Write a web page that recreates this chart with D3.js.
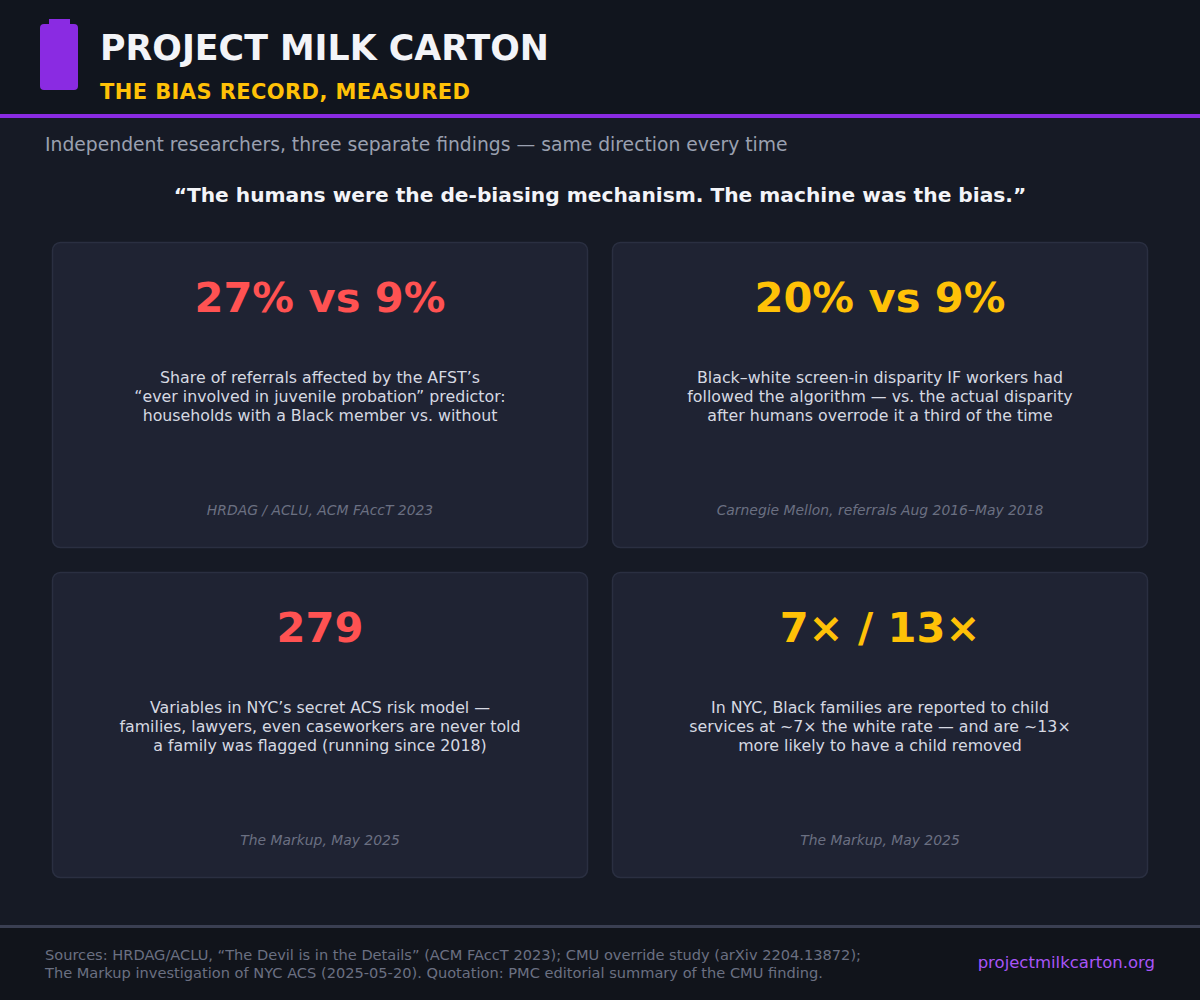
<!DOCTYPE html>
<html>
<head>
<meta charset="utf-8">
<script src="https://cdn.jsdelivr.net/npm/d3@7"></script>
<style>
  html, body { margin: 0; padding: 0; background: #161a25; }
  svg { display: block; font-family: "DejaVu Sans", sans-serif; }
</style>
</head>
<body>
<svg id="chart" width="1200" height="1000"></svg>
<script>
// ---- data ----
const cardStats = ["27% vs 9%", "20% vs 9%", "279", "7\u00d7 / 13\u00d7"];
const cardTones = ["red", "gold", "red", "gold"];
const cardDescriptions = [
  ["Share of referrals affected by the AFST\u2019s", "\u201cever involved in juvenile probation\u201d predictor:", "households with a Black member vs. without"],
  ["Black\u2013white screen-in disparity IF workers had", "followed the algorithm \u2014 vs. the actual disparity", "after humans overrode it a third of the time"],
  ["Variables in NYC\u2019s secret ACS risk model \u2014", "families, lawyers, even caseworkers are never told", "a family was flagged (running since 2018)"],
  ["In NYC, Black families are reported to child", "services at ~7\u00d7 the white rate \u2014 and are ~13\u00d7", "more likely to have a child removed"]
];
const cardSources = [
  "HRDAG / ACLU, ACM FAccT 2023",
  "Carnegie Mellon, referrals Aug 2016\u2013May 2018",
  "The Markup, May 2025",
  "The Markup, May 2025"
];
const titleText = "PROJECT MILK CARTON";
const subtitleText = "THE BIAS RECORD, MEASURED";
const introText = "Independent researchers, three separate findings \u2014 same direction every time";
const quoteText = "\u201cThe humans were the de-biasing mechanism. The machine was the bias.\u201d";
const footerLines = [
  "Sources: HRDAG/ACLU, \u201cThe Devil is in the Details\u201d (ACM FAccT 2023); CMU override study (arXiv 2204.13872);",
  "The Markup investigation of NYC ACS (2025-05-20). Quotation: PMC editorial summary of the CMU finding."
];
const siteText = "projectmilkcarton.org";

// ---- drawing ----
const W = 1200, H = 1000;
const svg = d3.select("#chart");
const toneColor = d3.scaleOrdinal().domain(["red", "gold"]).range(["#ff5252", "#ffc107"]);

// backgrounds
svg.append("rect").attr("x", 0).attr("y", 0).attr("width", W).attr("height", H).attr("fill", "#161a25");
svg.append("rect").attr("x", 0).attr("y", 0).attr("width", W).attr("height", 114).attr("fill", "#11151e");
svg.append("rect").attr("x", 0).attr("y", 114).attr("width", W).attr("height", 4).attr("fill", "#8a2be2");
svg.append("rect").attr("x", 0).attr("y", 925).attr("width", W).attr("height", H - 925).attr("fill", "#11141b");
svg.append("rect").attr("x", 0).attr("y", 925).attr("width", W).attr("height", 3).attr("fill", "#3a3f52");

// logo (milk carton)
svg.append("rect").attr("x", 49).attr("y", 19).attr("width", 21).attr("height", 8).attr("fill", "#8a2be2");
svg.append("rect").attr("x", 40).attr("y", 24).attr("width", 38).attr("height", 66).attr("rx", 4).attr("fill", "#8a2be2");

// titles
svg.append("text").attr("x", 100).attr("y", 60).attr("fill", "#f3f4f8")
  .attr("font-size", 34.8).attr("font-weight", "bold").text(titleText);
svg.append("text").attr("x", 100).attr("y", 99).attr("fill", "#ffc107")
  .attr("font-size", 21).attr("font-weight", "bold").attr("letter-spacing", 0.4).text(subtitleText);
svg.append("text").attr("x", 45).attr("y", 151).attr("fill", "#9aa0b0")
  .attr("font-size", 18.75).text(introText);
svg.append("text").attr("x", W / 2).attr("y", 202).attr("fill", "#f3f4f8").attr("text-anchor", "middle")
  .attr("font-size", 20.2).attr("font-weight", "bold").text(quoteText);

// cards
const colX = d3.scaleOrdinal().domain([0, 1]).range([52, 612]);
const rowY = d3.scaleOrdinal().domain([0, 1]).range([242, 572]);
const cardW = 536, cardH = 306;

const cards = svg.selectAll("g.card")
  .data(cardStats.map((s, i) => ({ stat: s, tone: cardTones[i], desc: cardDescriptions[i], src: cardSources[i], i })))
  .join("g").attr("class", "card")
  .attr("transform", d => `translate(${colX(d.i % 2)},${rowY(Math.floor(d.i / 2))})`);

cards.append("rect").attr("x", 0.5).attr("y", 0.5).attr("width", cardW - 1).attr("height", cardH - 1)
  .attr("rx", 8).attr("fill", "#1f2333").attr("stroke", "#2a2f41").attr("stroke-width", 1.5);

cards.append("text").attr("x", cardW / 2).attr("y", 70).attr("text-anchor", "middle")
  .attr("font-size", 41.6).attr("font-weight", "bold").attr("fill", d => toneColor(d.tone)).text(d => d.stat);

cards.append("text").attr("text-anchor", "middle").attr("font-size", 15.8).attr("fill", "#d6d9e2")
  .selectAll("tspan").data(d => d.desc).join("tspan")
  .attr("x", cardW / 2).attr("y", (d, j) => 141 + j * 19).text(d => d);

cards.append("text").attr("x", cardW / 2).attr("y", 273).attr("text-anchor", "middle")
  .attr("font-size", 13.9).attr("font-style", "italic").attr("fill", "#6b7082").text(d => d.src);

// footer
svg.append("text").attr("font-size", 14.6).attr("fill", "#6b7082")
  .selectAll("tspan").data(footerLines).join("tspan")
  .attr("x", 45).attr("y", (d, j) => 960 + j * 18).text(d => d);
svg.append("text").attr("x", 1155).attr("y", 968).attr("text-anchor", "end")
  .attr("font-size", 16.5).attr("fill", "#a855f7").text(siteText);
</script>
</body>
</html>
